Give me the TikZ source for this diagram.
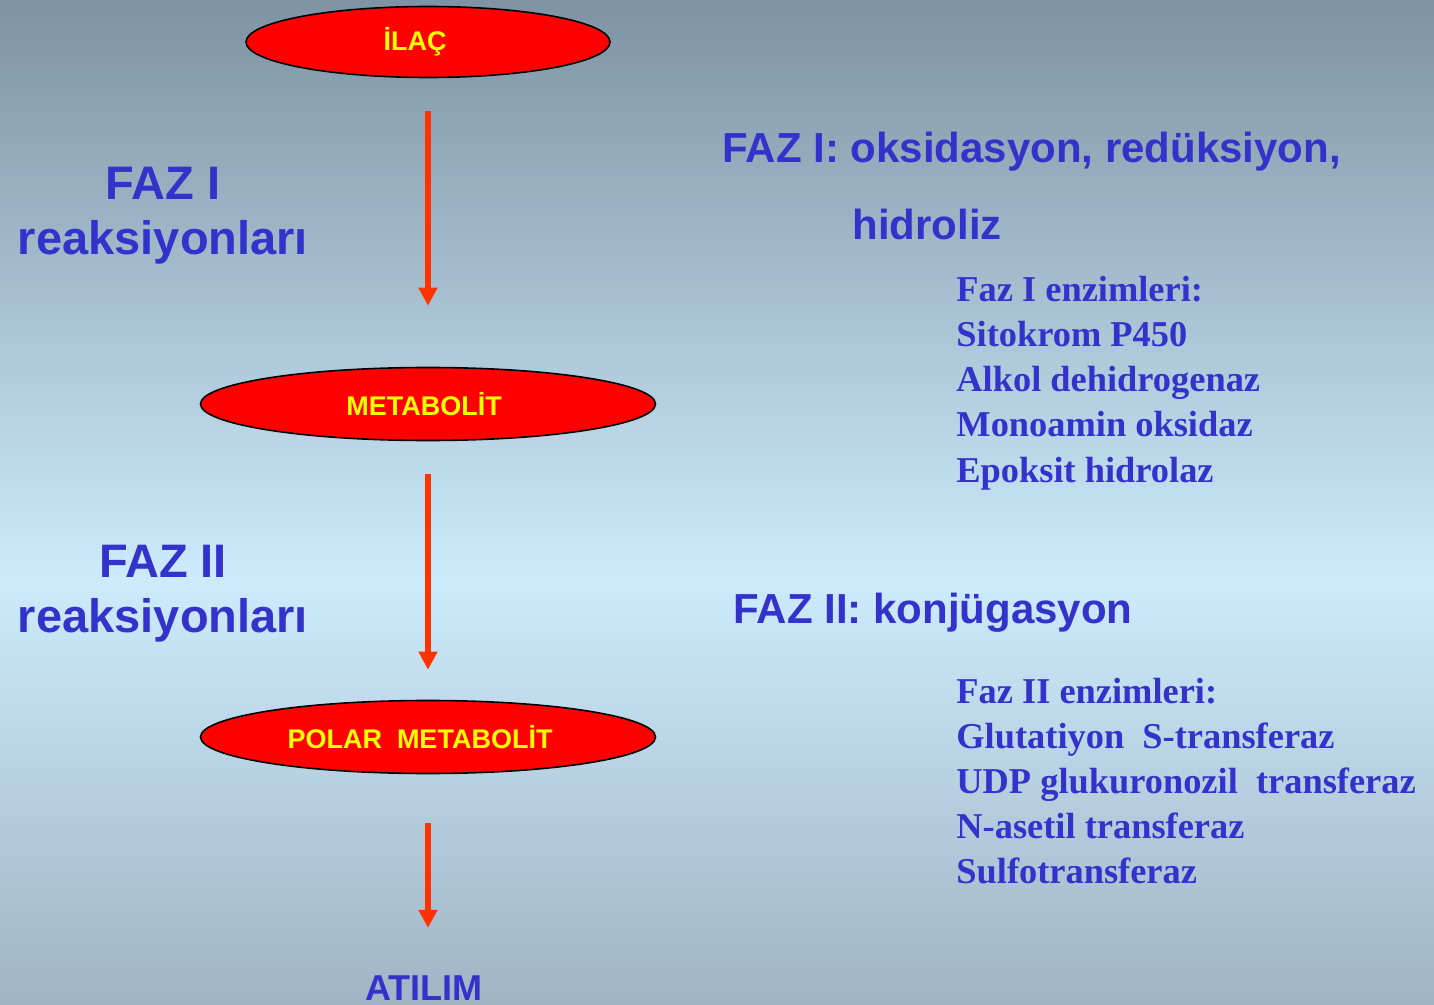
\documentclass[tikz,border=0pt]{standalone}
\usepackage{fontspec}
\setmainfont{Liberation Serif}
\setsansfont{Liberation Sans}
\usetikzlibrary{
	shapes.geometric,
	arrows.meta,
	positioning
}
\definecolor{fazblue}{HTML}{3333CC}
\definecolor{arrowred}{HTML}{FF3300}
\definecolor{stagered}{HTML}{FF0000}
\definecolor{stageyellow}{HTML}{FFFF00}
\definecolor{bgtop}{HTML}{7E93A3}
\definecolor{bgmid}{HTML}{CCEBFC}
\definecolor{bgbot}{HTML}{9FB4C4}

\begin{document}
\begin{tikzpicture}[x=0.5pt, y=-0.5pt,
    stage/.style={ellipse, draw=black, line width=0.8pt, fill=stagered, inner sep=0pt,
        text=stageyellow, font=\sffamily\bfseries\fontsize{13.5}{16}\selectfont},
    flow/.style={draw=arrowred, line width=3pt, -{Triangle[length=9pt, width=9pt]}},
    phase/.style={text=fazblue, inner sep=0pt, anchor=base,
        font=\sffamily\bfseries\fontsize{23.5}{28}\selectfont},
    reaction/.style={text=fazblue, inner sep=0pt, anchor=base west,
        font=\sffamily\bfseries\fontsize{21}{25}\selectfont},
    enzyme/.style={text=fazblue, inner sep=0pt, anchor=base west,
        font=\rmfamily\bfseries\fontsize{18.2}{22}\selectfont}]

% Background
\useasboundingbox (0,0) rectangle (1434,1005);
\fill[top color=bgtop, bottom color=bgmid] (0,0) rectangle (1434,580);
\fill[top color=bgmid, bottom color=bgbot] (0,579) rectangle (1434,1005);

% Stages (text sits a little left of centre)
\node[stage, minimum width=182pt, minimum height=35.5pt] (ilac) at (428,42) {İLAÇ\hspace*{13pt}};
\node[stage, minimum width=227.5pt, minimum height=36.5pt] (metabolit) at (428,404) {METABOLİT\hspace*{4pt}};
\node[stage, minimum width=227.5pt, minimum height=36.5pt] (polar) at (428,737) {POLAR\ \ METABOLİT\hspace*{8pt}};
\node[text=fazblue, inner sep=0pt, anchor=base,
    font=\sffamily\bfseries\fontsize{18}{22}\selectfont] (atilim) at (424,1000) {ATILIM};

% Arrows
\draw[flow, shorten <=16.5pt, shorten >=30.5pt] (ilac.south) -- (metabolit.north);
\draw[flow, shorten <=16.5pt, shorten >=15pt] (metabolit.south) -- (polar.north);
\draw[flow, shorten <=24.5pt, shorten >=23.5pt] (polar.south) -- (polar.south |- atilim.north);

% Left labels
\node[phase] (faz1) at (163,200) {FAZ I};
\node[phase] (faz1r) at (163,255) {reaksiyonları};
\node[phase] (faz2) at (163,577) {FAZ II};
\node[phase] (faz2r) at (163,632) {reaksiyonları};

% Phase I
\node[reaction] (faz1head) at (722,163) {FAZ I: oksidasyon, redüksiyon,};
\node[reaction] (faz1tail) at (852,240) {hidroliz};
\foreach \txt [count=\i] in {Faz I enzimleri:, Sitokrom P450, Alkol dehidrogenaz,
    Monoamin oksidaz, Epoksit hidrolaz}
    \node[enzyme] (enzA-\i) at (956,{302+45*(\i-1)}) {\txt};

% Phase II
\node[reaction] (faz2head) at (733,623) {FAZ II: konjügasyon};
\foreach \txt [count=\i] in {Faz II enzimleri:, Glutatiyon\ \ S-transferaz,
    UDP glukuronozil\ \ transferaz, N-asetil transferaz, Sulfotransferaz}
    \node[enzyme] (enzB-\i) at (956,{703+45*(\i-1)}) {\txt};

\end{tikzpicture}
\end{document}
